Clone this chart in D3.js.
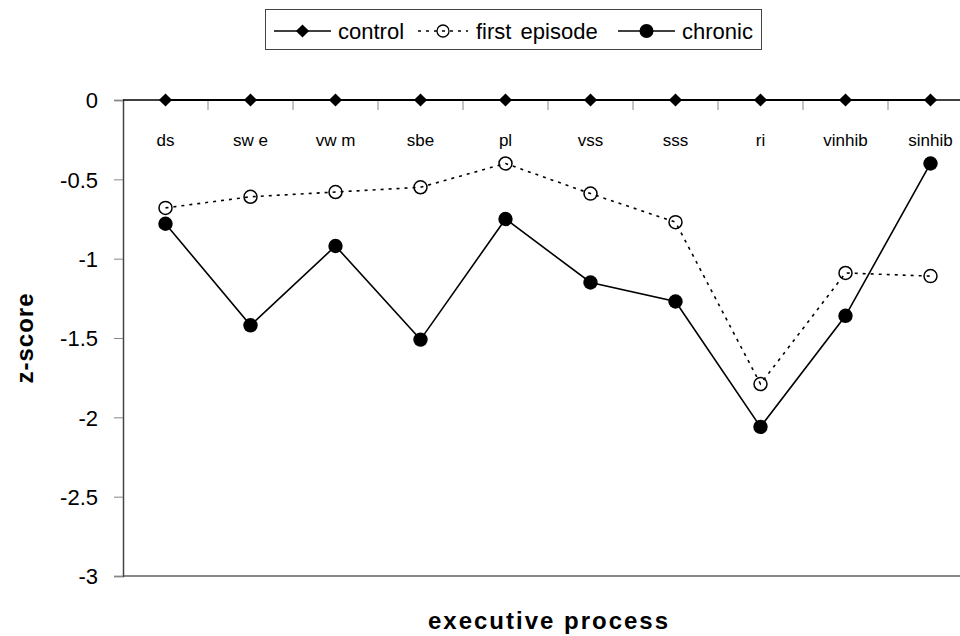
<!DOCTYPE html>
<html>
<head>
<meta charset="utf-8">
<script src="https://cdn.jsdelivr.net/npm/d3@7"></script>
<style>
  body { margin: 0; background: #fff; }
  svg { display: block; font-family: 'Liberation Sans', Arial, sans-serif; }
</style>
</head>
<body>
<svg id="chart" width="960" height="636"></svg>
<script>
'use strict';

var categories = ['ds', 'sw e', 'vw m', 'sbe', 'pl', 'vss', 'sss', 'ri', 'vinhib', 'sinhib'];
var control = [0, 0, 0, 0, 0, 0, 0, 0, 0, 0];
var firstEpisode = [-0.68, -0.61, -0.58, -0.55, -0.40, -0.59, -0.77, -1.79, -1.09, -1.11];
var chronic = [-0.78, -1.42, -0.92, -1.51, -0.75, -1.15, -1.27, -2.06, -1.36, -0.40];
var yTicks = [0, -0.5, -1, -1.5, -2, -2.5, -3];

var plotLeft = 123, plotRight = 973, plotTop = 100, plotBottom = 576;

var svg = d3.select('#chart');

var x = d3.scaleBand()
    .domain(categories)
    .range([plotLeft, plotRight]);

var y = d3.scaleLinear()
    .domain([0, -3])
    .range([plotTop, plotBottom]);

function cx(i) { return x(categories[i]) + x.bandwidth() / 2; }

// bottom frame line at -3
svg.append('line')
    .attr('x1', plotLeft).attr('x2', plotRight)
    .attr('y1', y(-3)).attr('y2', y(-3))
    .style('stroke', '#888').style('stroke-width', 2);

// y axis
var yAxis = svg.append('g')
    .attr('transform', 'translate(' + plotLeft + ',0)')
    .call(d3.axisLeft(y).tickValues(yTicks).tickSize(9).tickPadding(16)
        .tickFormat(function (d) { return d === 0 ? '0' : String(d); }));
yAxis.select('.domain').style('stroke', '#444').style('stroke-width', 1.5);
yAxis.selectAll('.tick line').style('stroke', '#888').style('stroke-width', 1);
yAxis.selectAll('.tick text')
    .style('font-size', '22px').style('fill', '#000')
    .attr('dy', '0.36em');

// x axis at zero, ticks between categories
svg.append('line')
    .attr('x1', plotLeft).attr('x2', plotRight)
    .attr('y1', y(0)).attr('y2', y(0))
    .style('stroke', '#000').style('stroke-width', 1.5);

svg.selectAll('.xtick')
    .data(categories.slice(1))
    .enter().append('line')
    .attr('class', 'xtick')
    .attr('x1', function (d) { return x(d); })
    .attr('x2', function (d) { return x(d); })
    .attr('y1', y(0)).attr('y2', y(0) + 10)
    .style('stroke', '#888').style('stroke-width', 1);

svg.selectAll('.xlabel')
    .data(categories)
    .enter().append('text')
    .attr('class', 'xlabel')
    .attr('x', function (d) { return x(d) + x.bandwidth() / 2; })
    .attr('y', 146)
    .attr('text-anchor', 'middle')
    .style('font-size', '17px')
    .text(function (d) { return d; });

var line = d3.line()
    .x(function (d, i) { return cx(i); })
    .y(function (d) { return y(d); });

// control
svg.append('path')
    .datum(control)
    .attr('d', line)
    .style('fill', 'none').style('stroke', '#000').style('stroke-width', 2);

// first episode
svg.append('path')
    .datum(firstEpisode)
    .attr('d', line)
    .style('fill', 'none').style('stroke', '#000').style('stroke-width', 1.6)
    .style('stroke-dasharray', '3,5');

// chronic
svg.append('path')
    .datum(chronic)
    .attr('d', line)
    .style('fill', 'none').style('stroke', '#000').style('stroke-width', 1.6);

var diamond = d3.symbol().type(d3.symbolDiamond2).size(110);

svg.selectAll('.ctrl')
    .data(control)
    .enter().append('path')
    .attr('class', 'ctrl')
    .attr('d', diamond)
    .attr('transform', function (d, i) {
        return 'translate(' + cx(i) + ',' + y(d) + ')';
    })
    .style('fill', '#000');

svg.selectAll('.fe')
    .data(firstEpisode)
    .enter().append('circle')
    .attr('class', 'fe')
    .attr('cx', function (d, i) { return cx(i); })
    .attr('cy', function (d) { return y(d); })
    .attr('r', 6.5)
    .style('fill', 'none').style('stroke', '#000').style('stroke-width', 1.5);

svg.selectAll('.chr')
    .data(chronic)
    .enter().append('circle')
    .attr('class', 'chr')
    .attr('cx', function (d, i) { return cx(i); })
    .attr('cy', function (d) { return y(d); })
    .attr('r', 7.2)
    .style('fill', '#000');

// axis titles
svg.append('text')
    .attr('transform', 'translate(33,' + ((plotTop + plotBottom) / 2) + ') rotate(-90)')
    .attr('text-anchor', 'middle')
    .style('font-size', '24px').style('font-weight', 'bold')
    .style('letter-spacing', '1px')
    .text('z-score');

svg.append('text')
    .attr('x', (plotLeft + plotRight) / 2 + 1)
    .attr('y', 629)
    .attr('text-anchor', 'middle')
    .style('font-size', '24px').style('font-weight', 'bold')
    .style('letter-spacing', '2px')
    .text('executive process');

// legend
var legend = svg.append('g');
legend.append('rect')
    .attr('x', 265.5).attr('y', 9.5)
    .attr('width', 496).attr('height', 40)
    .style('fill', '#fff').style('stroke', '#444').style('stroke-width', 1);

var ly = 31;
var legendItems = [
    { name: 'control', x1: 274, x2: 331, tx: 338 },
    { name: 'first episode', x1: 418, x2: 468, tx: 476 },
    { name: 'chronic', x1: 618, x2: 675, tx: 682 }
];

legendItems.forEach(function (item, i) {
    var mid = (item.x1 + item.x2) / 2;
    var ln = legend.append('line')
        .attr('x1', item.x1).attr('x2', item.x2)
        .attr('y1', ly).attr('y2', ly)
        .style('stroke', '#000').style('stroke-width', i === 1 ? 1.6 : 1.5);
    if (i === 1) ln.style('stroke-dasharray', '3,5');
    if (i === 0) {
        legend.append('path').attr('d', diamond)
            .attr('transform', 'translate(' + mid + ',' + ly + ')')
            .style('fill', '#000');
    } else if (i === 1) {
        legend.append('circle').attr('cx', mid).attr('cy', ly).attr('r', 6)
            .style('fill', 'none').style('stroke', '#000').style('stroke-width', 1.3);
    } else {
        legend.append('circle').attr('cx', mid).attr('cy', ly).attr('r', 7)
            .style('fill', '#000');
    }
    legend.append('text')
        .attr('x', item.tx).attr('y', ly + 8)
        .style('font-size', '22px')
        .style('word-spacing', i === 1 ? '3px' : '0px')
        .text(item.name);
});
</script>
</body>
</html>
